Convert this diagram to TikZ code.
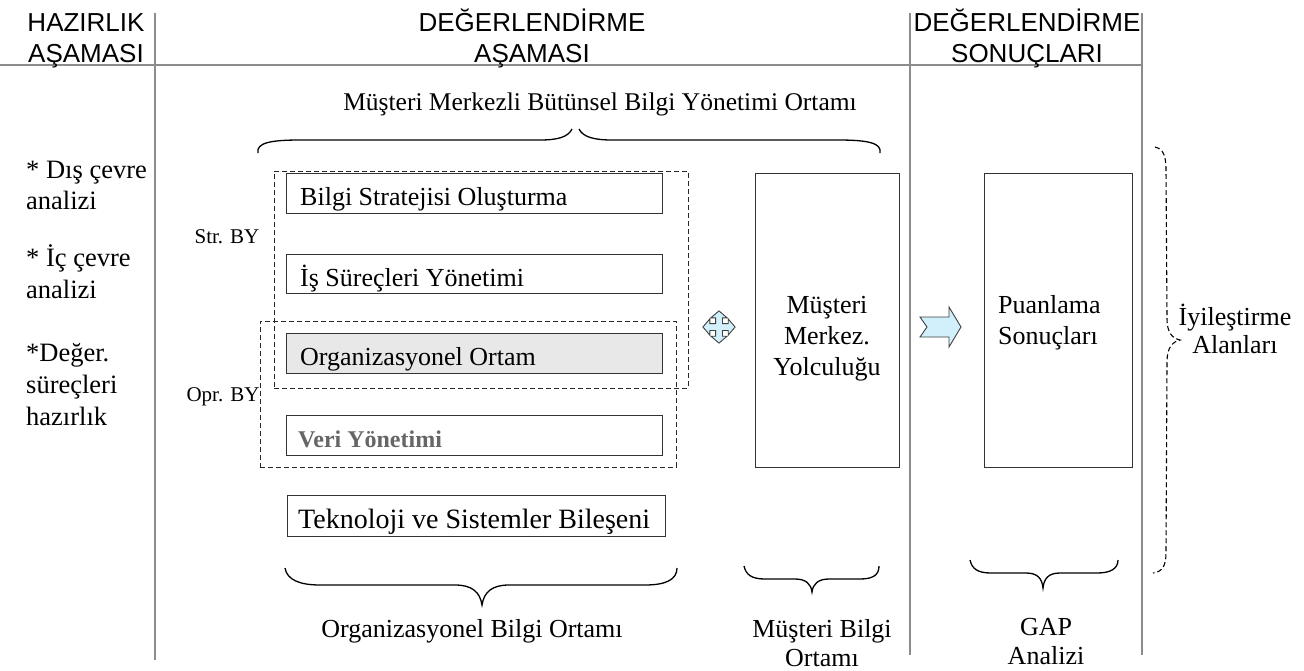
\documentclass[tikz,border=0pt]{standalone}
\usepackage{fontspec}
\setmainfont{Liberation Serif}
\newfontfamily\hdfont{Liberation Sans}
\begin{document}
\begin{tikzpicture}[x=1pt,y=-1pt,
  sline/.style={draw=black!45, line width=1.3pt},
  box/.style={draw=black!80, line width=1.2pt, inner sep=0pt, anchor=north west},
  dbox/.style={draw=black!85, dash pattern=on 5pt off 3pt, line width=0.9pt, inner sep=0pt, anchor=north west},
  hd/.style={font=\hdfont\fontsize{26}{31}\selectfont, inner sep=0pt, anchor=base},
  tx/.style={font=\fontsize{26}{31}\selectfont, inner sep=0pt},
  bl/.style={font=\fontsize{26.5}{31}\selectfont, inner sep=0pt, anchor=base west},
  bx/.style={font=\fontsize{26}{30}\selectfont, inner sep=0pt, anchor=base west},
  sm/.style={font=\fontsize{21}{24}\selectfont, inner sep=0pt, anchor=base},
  brc/.style={draw=black, line width=1.3pt},
  arr/.style={draw=black!75, fill=cyan!18, line width=0.9pt, line join=miter}
]
\useasboundingbox (0,0) rectangle (1304,670);
\fill[white] (0,0) rectangle (1304,670);

% frame lines
\coordinate (v1t) at (155,13);  \coordinate (v1b) at (155,660);
\coordinate (v2t) at (910,13);  \coordinate (v2b) at (910,655);
\coordinate (v3t) at (1142,13); \coordinate (v3b) at (1142,655);
\coordinate (h0) at (0,65);     \coordinate (h1) at (1142,65);
\draw[sline] (v1t) -- (v1b);
\draw[sline] (v2t) -- (v2b);
\draw[sline] (v3t) -- (v3b);
\draw[sline] (h0) -- (h1);

% headers
\node[hd] (hz1) at (86,31) {HAZIRLIK};
\node[hd] (hz2) at (86,62) {AŞAMASI};
\node[hd] (dg1) at (532,31) {DEĞERLENDİRME};
\node[hd] (dg2) at (532,62) {AŞAMASI};
\node[hd] (ds1) at (1027,31) {DEĞERLENDİRME};
\node[hd] (ds2) at (1027,62) {SONUÇLARI};

% left bullets
\node[bl] (b1a) at (26,178) {* Dış çevre};
\node[bl] (b1b) at (26,209) {analizi};
\node[bl] (b2a) at (26,266) {* İç çevre};
\node[bl] (b2b) at (26,298) {analizi};
\node[bl] (b3a) at (26,361) {*Değer.};
\node[bl] (b3b) at (26,393) {süreçleri};
\node[bl] (b3c) at (26,425) {hazırlık};

% top label and brace
\node[tx, anchor=base, font=\fontsize{25.5}{28}\selectfont] (top) at (600,110) {Müşteri Merkezli Bütünsel Bilgi Yönetimi Ortamı};
\draw[brc] (258,153) .. controls (256,143) and (270,140) .. (300,140) -- (540,140) .. controls (558,140) and (568,137) .. (572,129);
\draw[brc] (880,153) .. controls (882,143) and (868,140) .. (838,140) -- (612,140) .. controls (594,140) and (583,137) .. (579,129);

% dashed groups
\node[dbox, minimum width=414, minimum height=217] (strg) at (274,171) {};
\node[dbox, minimum width=416, minimum height=146] (oprg) at (260,321) {};
\node[sm] (strl) at (227,243) {Str. BY};
\node[sm] (oprl) at (223,401) {Opr. BY};

% component boxes
\node[box, minimum width=376, minimum height=40] (bilgi) at (286,173) {};
\node[box, minimum width=376, minimum height=39] (is) at (286,254) {};
\node[box, minimum width=376, minimum height=40, fill=black!9] (org) at (286,333) {};
\node[box, minimum width=376, minimum height=40] (veri) at (286,415) {};
\node[box, minimum width=378, minimum height=41] (tek) at (287,495) {};
\node[bx] (tbilgi) at (300,205) {Bilgi Stratejisi Oluşturma};
\node[bx] (tis) at (300,286) {İş Süreçleri Yönetimi};
\node[bx] (torg) at (300,365) {Organizasyonel Ortam};
\node[bx, font=\bfseries\fontsize{24}{30}\selectfont, text=black!60] (tveri) at (298,447) {Veri Yönetimi};
\node[bx, font=\fontsize{28}{30}\selectfont] (ttek) at (298,528) {Teknoloji ve Sistemler Bileşeni};

% customer box
\node[box, minimum width=144, minimum height=294] (mus) at (755,173) {};
\node[tx, anchor=base] (m1) at (827,313) {Müşteri};
\node[tx, anchor=base] (m2) at (827,344) {Merkez.};
\node[tx, anchor=base] (m3) at (827,375) {Yolculuğu};

% results box
\node[box, minimum width=148, minimum height=294] (pua) at (984,173) {};
\node[tx, anchor=base west] (p1) at (998,313) {Puanlama};
\node[tx, anchor=base west] (p2) at (998,344) {Sonuçları};

% four-way arrow
\begin{scope}[shift={(719,327)}, scale=1.15]
\path[arr] (0,-14) -- (7,-8) -- (3,-8) -- (3,-3) -- (8,-3) -- (8,-7) -- (14,0) -- (8,7) -- (8,3) -- (3,3) -- (3,8) -- (7,8) -- (0,14) -- (-7,8) -- (-3,8) -- (-3,3) -- (-8,3) -- (-8,7) -- (-14,0) -- (-8,-7) -- (-8,-3) -- (-3,-3) -- (-3,-8) -- (-7,-8) -- cycle;
\end{scope}

% notched right arrow
\path[arr] (920,317) -- (949,317) -- (949,307) -- (961,327) -- (949,347) -- (949,337) -- (920,337) -- (927,327) -- cycle;

% bottom braces
\draw[brc] (285,568) .. controls (287,580) and (300,585) .. (320,585) -- (455,585) .. controls (472,585) and (480,592) .. (482,605) .. controls (484,592) and (492,585) .. (509,585) -- (645,585) .. controls (665,585) and (677,580) .. (677,568);
\draw[brc] (744,566) .. controls (746,575) and (752,579) .. (765,579) -- (795,579) .. controls (806,579) and (811,584) .. (812,592) .. controls (813,584) and (818,579) .. (829,579) -- (860,579) .. controls (873,579) and (879,575) .. (879,566);
\draw[brc] (970,560) .. controls (972,569) and (978,573) .. (991,573) -- (1026,573) .. controls (1037,573) and (1042,578) .. (1043,588) .. controls (1044,578) and (1049,573) .. (1060,573) -- (1097,573) .. controls (1110,573) and (1118,569) .. (1118,560);

% bottom labels
\node[tx, anchor=base] (lorg) at (472,637) {Organizasyonel Bilgi Ortamı};
\node[tx, anchor=base] (lmus1) at (822,637) {Müşteri Bilgi};
\node[tx, anchor=base] (lmus2) at (822,666) {Ortamı};
\node[tx, anchor=base] (lgap1) at (1046,635) {GAP};
\node[tx, anchor=base] (lgap2) at (1046,664) {Analizi};

% right dashed brace
\draw[brc, line width=1.1pt, dash pattern=on 5pt off 3pt] (1155,147) .. controls (1163,149) and (1166,155) .. (1166,170) -- (1167,318) .. controls (1167,333) and (1172,338) .. (1180,340) .. controls (1172,342) and (1167,348) .. (1167,362) -- (1166,553) .. controls (1166,566) and (1162,572) .. (1153,573);
\node[tx, anchor=base] (iy1) at (1235,325) {İyileştirme};
\node[tx, anchor=base] (iy2) at (1235,353) {Alanları};
\end{tikzpicture}
\end{document}
